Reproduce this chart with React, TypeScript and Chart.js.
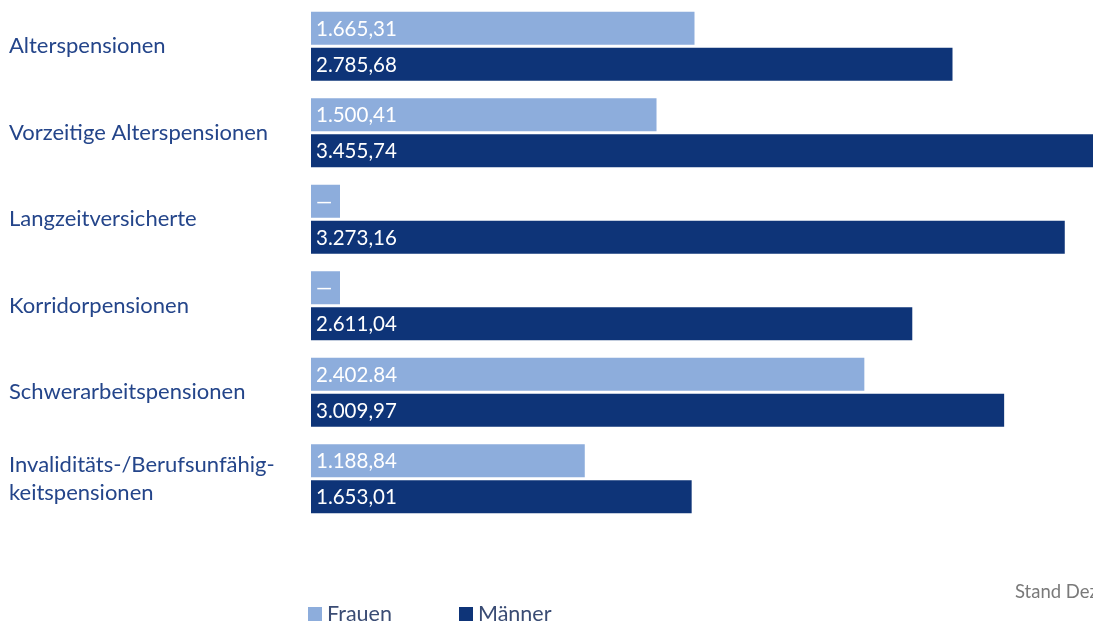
import React, { useEffect, useRef } from "react";
import { Chart, registerables } from "chart.js";

Chart.register(...registerables);

const categories: (string | string[])[] = [
  "Alterspensionen",
  "Vorzeitige Alterspensionen",
  "Langzeitversicherte",
  "Korridorpensionen",
  "Schwerarbeitspensionen",
  ["Invaliditäts-/Berufsunfähig-", "keitspensionen"],
];
const frauenValues = [1665.31, 1500.41, 0, 0, 2402.84, 1188.84];
const maennerValues = [2785.68, 3455.74, 3273.16, 2611.04, 3009.97, 1653.01];
const frauenLabels = ["1.665,31", "1.500,41", "—", "—", "2.402.84", "1.188,84"];
const maennerLabels = ["2.785,68", "3.455,74", "3.273,16", "2.611,04", "3.009,97", "1.653,01"];
const seriesNames = ["Frauen", "Männer"];
const footnote = "Stand Dezember 2023";

const FONT = "Lato, 'Noto Sans', sans-serif";
const LIGHT = "#8daddc";
const DARK = "#0e3478";

const valueLabelPlugin = {
  id: "valueLabels",
  afterDatasetsDraw(chart: any) {
    const ctx = chart.ctx;
    const allLabels = [frauenLabels, maennerLabels];
    ctx.save();
    ctx.font = `20.5px ${FONT}`;
    ctx.fillStyle = "#ffffff";
    ctx.textAlign = "left";
    ctx.textBaseline = "middle";
    chart.data.datasets.forEach((_ds: any, di: number) => {
      const meta = chart.getDatasetMeta(di);
      meta.data.forEach((el: any, i: number) => {
        const txt = allLabels[di][i];
        ctx.fillText(txt, el.base + 5, el.y + 1);
      });
    });
    ctx.restore();
  },
};

const legendPlugin = {
  id: "customLegend",
  afterDraw(chart: any) {
    const ctx = chart.ctx;
    ctx.save();
    const positions = [308, 459];
    ctx.font = `21.5px ${FONT}`;
    ctx.textBaseline = "middle";
    ctx.textAlign = "left";
    chart.data.datasets.forEach((ds: any, i: number) => {
      const x = positions[i];
      ctx.fillStyle = ds.backgroundColor;
      ctx.fillRect(x, 607, 14, 14);
      ctx.fillStyle = "#3a4c74";
      ctx.fillText(ds.label, x + 19, 614);
    });
    ctx.font = `18.5px ${FONT}`;
    ctx.fillStyle = "#7a7a7a";
    ctx.fillText(footnote, 1015, 592);
    ctx.restore();
  },
};

export default function App() {
  const canvasRef = useRef<HTMLCanvasElement | null>(null);

  useEffect(() => {
    if (!canvasRef.current) return;
    const chart = new Chart(canvasRef.current, {
      type: "bar",
      data: {
        labels: categories,
        datasets: [
          {
            label: seriesNames[0],
            data: frauenValues,
            backgroundColor: LIGHT,
            minBarLength: 29,
            categoryPercentage: 0.833,
            barPercentage: 0.91,
          },
          {
            label: seriesNames[1],
            data: maennerValues,
            backgroundColor: DARK,
            categoryPercentage: 0.833,
            barPercentage: 0.91,
          },
        ],
      },
      options: {
        indexAxis: "y",
        animation: false,
        responsive: true,
        maintainAspectRatio: false,
        layout: { padding: { left: 9, top: 3, bottom: 102, right: 0 } },
        plugins: {
          legend: { display: false },
          tooltip: { enabled: false },
        },
        scales: {
          x: {
            display: false,
            min: 0,
            max: 3500,
          },
          y: {
            grid: { display: false },
            border: { display: false },
            ticks: {
              crossAlign: "far",
              padding: 0,
              color: "#24458a",
              font: { family: FONT, size: 22, lineHeight: 1.27 },
            },
            afterFit(scale: any) {
              scale.width = 302;
              scale.paddingTop = 0;
              scale.paddingBottom = 0;
            },
          },
        },
      },
      plugins: [valueLabelPlugin, legendPlugin],
    } as any);
    return () => chart.destroy();
  }, []);

  return (
    <div
      style={{
        position: "fixed",
        left: 0,
        top: 0,
        width: 1093,
        height: 624,
        overflow: "hidden",
        background: "#fff",
      }}
    >
      <div style={{ position: "absolute", left: 0, top: 0, width: 1117, height: 624 }}>
        <canvas ref={canvasRef} />
      </div>
    </div>
  );
}
